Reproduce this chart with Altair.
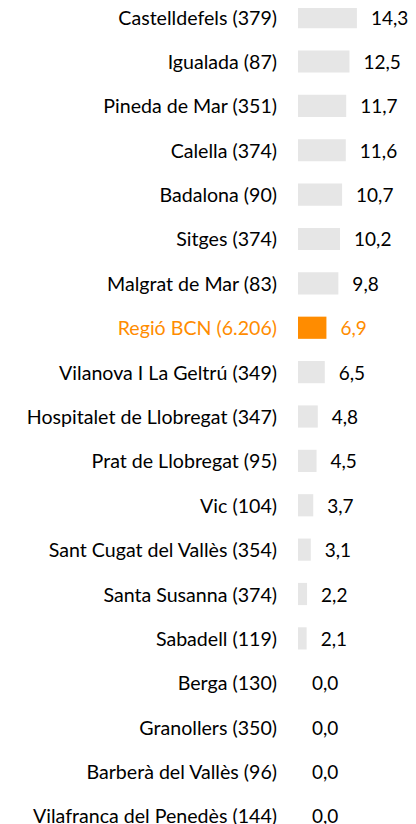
import altair as alt
import pandas as pd

names = [
    "Castelldefels (379)", "Igualada (87)", "Pineda de Mar (351)", "Calella (374)",
    "Badalona (90)", "Sitges (374)", "Malgrat de Mar (83)", "Regió BCN (6.206)",
    "Vilanova I La Geltrú (349)", "Hospitalet de Llobregat (347)", "Prat de Llobregat (95)",
    "Vic (104)", "Sant Cugat del Vallès (354)", "Santa Susanna (374)", "Sabadell (119)",
    "Berga (130)", "Granollers (350)", "Barberà del Vallès (96)", "Vilafranca del Penedès (144)",
]
values = [14.3, 12.5, 11.7, 11.6, 10.7, 10.2, 9.8, 6.9, 6.5, 4.8, 4.5, 3.7, 3.1, 2.2, 2.1,
          0.0, 0.0, 0.0, 0.0]
highlight = "Regió BCN (6.206)"

df = pd.DataFrame({"name": names, "value": values})
df["hl"] = df["name"].eq(highlight).map({True: "yes", False: "no"})

FONT = "Lato"
FS = 19.6

y = alt.Y("name:N", sort=names, axis=None,
          scale=alt.Scale(paddingInner=0.5, paddingOuter=0))
x = alt.X("value:Q", axis=None, scale=alt.Scale(domain=[0, 26.7], nice=False, zero=True))
color = alt.Color("hl:N", legend=None,
                  scale=alt.Scale(domain=["no", "yes"], range=["#e6e6e6", "#ff8c00"]))
tcolor = alt.Color("hl:N", legend=None,
                   scale=alt.Scale(domain=["no", "yes"], range=["#000000", "#ff8c00"]))

base = alt.Chart(df).encode(y=y)

bars = base.mark_bar(yOffset=-6).encode(x=x, color=color)
vals = base.transform_calculate(
    lab="replace(format(datum.value, '.1f'), '.', ',')"
).mark_text(align="left", baseline="middle", dx=14, dy=-4.5, font=FONT, fontSize=19).encode(
    x=x, text="lab:N", color=tcolor)
labels = base.mark_text(align="right", baseline="middle", dy=-4.5, font=FONT, fontSize=FS).encode(
    x=alt.value(-21), text="name:N", color=tcolor)

chart = alt.layer(bars, vals, labels).resolve_scale(color="independent").properties(
    width=110, height=821,
    padding={"left": 290, "top": 4, "right": 0, "bottom": 0},
    autosize=alt.AutoSizeParams(type="none"),
).configure_view(stroke=None)

chart.save("out.html", embed_options={"renderer": "svg", "actions": False})
